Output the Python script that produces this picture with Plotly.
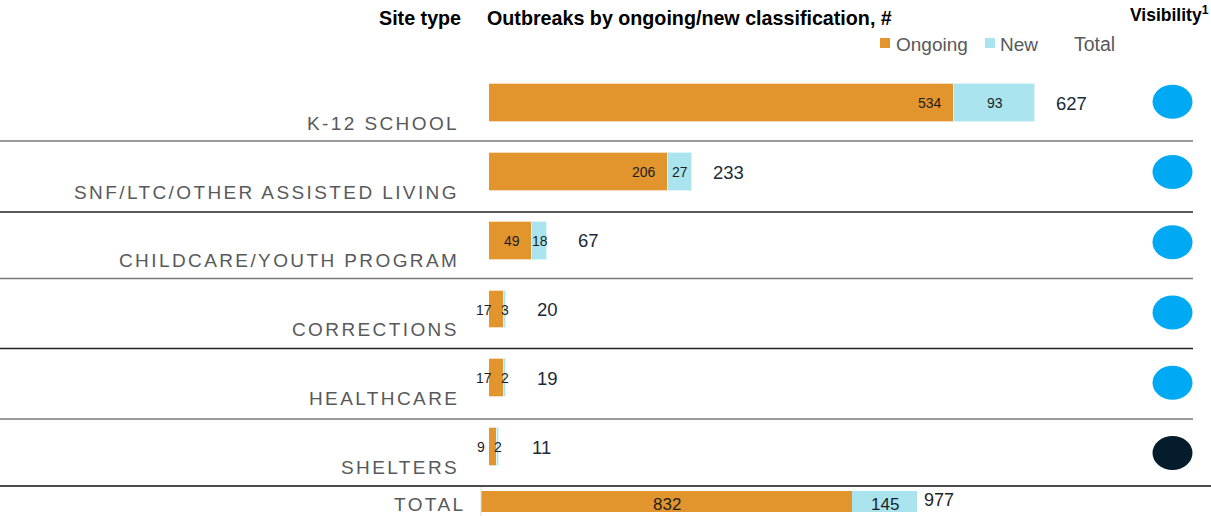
import plotly.graph_objects as go

# ---------------- data ----------------
categories = ["K-12 SCHOOL", "SNF/LTC/OTHER ASSISTED LIVING", "CHILDCARE/YOUTH PROGRAM",
              "CORRECTIONS", "HEALTHCARE", "SHELTERS"]
ongoing = [534, 206, 49, 17, 17, 9]
new = [93, 27, 18, 3, 2, 2]
totals = [627, 233, 67, 20, 19, 11]
visibility = ["high", "high", "high", "high", "high", "low"]

total_label = "TOTAL"
total_ongoing = [832]
total_new = [145]
total_all = [977]

legend_labels = ["Ongoing", "New", "Total"]

# ---------------- style ----------------
W, H = 1211, 516
def px(x): return x / W
def py(y): return 1 - y / H

ORANGE = "#E3952D"
BLUE = "#A9E4EF"
DARK = "#1B2A38"
NUM = "#1E1E1E"
GRAY = "#58595B"
ARIAL = "Liberation Sans, Arial, sans-serif"
VIS_COLORS = {"high": "#00A9F4", "low": "#051C2C"}

idx = list(range(len(categories)))

fig = go.Figure()
fig.add_bar(y=idx, x=ongoing, orientation="h", width=0.55, xaxis="x", yaxis="y",
            marker=dict(color=ORANGE, line=dict(color="#F6DDBB", width=1)), hoverinfo="skip")
fig.add_bar(y=idx, x=new, orientation="h", width=0.55, xaxis="x", yaxis="y",
            marker=dict(color=BLUE, line=dict(color="#DDF4F8", width=1)), hoverinfo="skip")
fig.add_bar(y=[0], x=total_ongoing, orientation="h", width=1, xaxis="x2", yaxis="y2",
            marker=dict(color=ORANGE, line=dict(width=0)), hoverinfo="skip")
fig.add_bar(y=[0], x=total_new, orientation="h", width=1, xaxis="x2", yaxis="y2",
            marker=dict(color=BLUE, line=dict(width=0)), hoverinfo="skip")
# anchor trace for the visibility column axis
fig.add_scatter(x=[0] * len(idx), y=idx, xaxis="x", yaxis="y3", mode="markers",
                marker=dict(opacity=0, size=1), hoverinfo="skip")

ann = []
shapes = []

def spaced(t, sp):
    return f'<span style="letter-spacing:{sp}px">{t}</span>'

for i, c in enumerate(categories):
    ann.append(dict(xref="paper", yref="y", x=px(461), y=i, yshift=-20, xanchor="right",
                    yanchor="middle", text=spaced(c, 2.4), showarrow=False,
                    font=dict(family=ARIAL, size=19, color=GRAY)))
    ann.append(dict(xref="x", yref="y", x=ongoing[i], y=i, xshift=-10, xanchor="right",
                    yanchor="middle", text=str(ongoing[i]), showarrow=False,
                    font=dict(family=ARIAL, size=14, color=NUM)))
    ann.append(dict(xref="x", yref="y", x=ongoing[i] + new[i] / 2, y=i, xanchor="center",
                    yanchor="middle", text=str(new[i]), showarrow=False,
                    font=dict(family=ARIAL, size=14, color=NUM)))
    ann.append(dict(xref="x", yref="y", x=totals[i], y=i, xshift=54, xanchor="right",
                    yanchor="middle", text=str(totals[i]), showarrow=False,
                    font=dict(family=ARIAL, size=18.5, color=DARK)))
    shapes.append(dict(type="circle", xref="paper", yref="y3", xsizemode="pixel", ysizemode="pixel",
                       xanchor=px(1172.5), yanchor=i, x0=-20, x1=20, y0=-17, y1=17,
                       fillcolor=VIS_COLORS[visibility[i]], line=dict(width=0)))

# total row
ann.append(dict(xref="paper", yref="y2", x=px(467), y=0, yshift=-3, xanchor="right", yanchor="middle",
                text=spaced(total_label, 2.4), showarrow=False, font=dict(family=ARIAL, size=19, color=GRAY)))
ann.append(dict(xref="x2", yref="y2", x=total_ongoing[0] / 2, y=0, yshift=-3, xanchor="center",
                yanchor="middle", text=str(total_ongoing[0]), showarrow=False,
                font=dict(family=ARIAL, size=17, color=NUM)))
ann.append(dict(xref="x2", yref="y2", x=total_ongoing[0] + total_new[0] / 2, y=0, yshift=-3,
                xanchor="center", yanchor="middle", text=str(total_new[0]), showarrow=False,
                font=dict(family=ARIAL, size=17, color=NUM)))
ann.append(dict(xref="x2", yref="y2", x=total_all[0], y=0, xshift=5, yshift=2, xanchor="left",
                yanchor="middle", text=str(total_all[0]), showarrow=False,
                font=dict(family=ARIAL, size=18, color=NUM)))

# headers
ann.append(dict(xref="paper", yref="paper", x=px(463), y=py(18), xanchor="right", yanchor="middle",
                text="<b>Site type</b>", showarrow=False, font=dict(family=ARIAL, size=19.7, color="black")))
ann.append(dict(xref="paper", yref="paper", x=px(485), y=py(18), xanchor="left", yanchor="middle",
                text="<b>Outbreaks by ongoing/new classification, #</b>", showarrow=False,
                font=dict(family=ARIAL, size=19.7, color="black")))
ann.append(dict(xref="paper", yref="paper", x=px(1128), y=py(14), xanchor="left", yanchor="middle",
                text="<b>Visibility<sup>1</sup></b>", showarrow=False,
                font=dict(family=ARIAL, size=17.5, color="black")))

# legend
ann.append(dict(xref="paper", yref="paper", x=px(894), y=py(44), xanchor="left", yanchor="middle",
                text=legend_labels[0], showarrow=False, font=dict(family=ARIAL, size=19, color=GRAY)))
ann.append(dict(xref="paper", yref="paper", x=px(998), y=py(44), xanchor="left", yanchor="middle",
                text=legend_labels[1], showarrow=False, font=dict(family=ARIAL, size=19, color=GRAY)))
ann.append(dict(xref="paper", yref="paper", x=px(1072), y=py(44), xanchor="left", yanchor="middle",
                text=legend_labels[2], showarrow=False, font=dict(family=ARIAL, size=19.5, color=GRAY)))
shapes.append(dict(type="rect", xref="paper", yref="paper", x0=px(880), x1=px(890), y0=py(48), y1=py(38),
                   fillcolor=ORANGE, line=dict(width=0)))
shapes.append(dict(type="rect", xref="paper", yref="paper", x0=px(985), x1=px(995), y0=py(48), y1=py(38),
                   fillcolor=BLUE, line=dict(width=0)))

# separator lines
seps = [(141, "#777777", 1193), (212, "#222222", 1193), (278.5, "#777777", 1193),
        (348.5, "#222222", 1193), (419, "#777777", 1193), (486, "#111111", 1211)]
for y, col, x1 in seps:
    shapes.append(dict(type="line", xref="paper", yref="paper", x0=0, x1=px(x1), y0=py(y), y1=py(y),
                       line=dict(color=col, width=1.5)))
shapes.append(dict(type="line", xref="paper", yref="paper", x0=px(481), x1=px(481), y0=py(487), y1=0,
                   line=dict(color="#DDDDDD", width=1)))

fig.update_layout(
    width=W, height=H, margin=dict(l=0, r=0, t=0, b=0, pad=0),
    paper_bgcolor="white", plot_bgcolor="rgba(0,0,0,0)",
    barmode="stack", showlegend=False, bargap=0,
    xaxis=dict(domain=[px(489), px(1035)], range=[0, max(totals)], visible=False, anchor="y", fixedrange=True),
    yaxis=dict(domain=[py(103.5 + 5.5 * 68.74), py(103.5 - 0.5 * 68.74)],
               range=[len(categories) - 0.5, -0.5], visible=False, anchor="x", fixedrange=True),
    yaxis3=dict(domain=[py(453 + 0.5 * 70.3), py(101.7 - 0.5 * 70.3)],
                range=[len(categories) - 0.5, -0.5], visible=False, anchor="x", fixedrange=True),
    xaxis2=dict(domain=[px(481), px(917)], range=[0, total_all[0]], visible=False, anchor="y2", fixedrange=True),
    yaxis2=dict(domain=[py(512), py(491)], range=[-0.5, 0.5], visible=False, anchor="x2", fixedrange=True),
    annotations=ann, shapes=shapes,
)

fig.write_html("out.html", config={"displayModeBar": False},
               post_script="document.body.style.margin='0';document.body.style.overflow='hidden';")
